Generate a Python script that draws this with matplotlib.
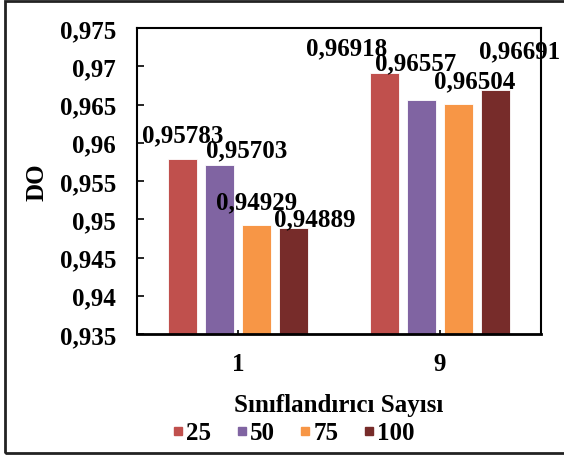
import matplotlib
matplotlib.use("Agg")
import matplotlib.pyplot as plt
import numpy as np
from matplotlib.lines import Line2D
from matplotlib.patches import Rectangle
from matplotlib.ticker import FuncFormatter

categories = ["1", "9"]
series_names = ["25", "50", "75", "100"]
values = {
    "25": [0.95783, 0.96918],
    "50": [0.95703, 0.96557],
    "75": [0.94929, 0.96504],
    "100": [0.94889, 0.96691],
}
colors = ["#C0504D", "#8064A2", "#F79646", "#772C2A"]
y_ticks = [0.935, 0.94, 0.945, 0.95, 0.955, 0.96, 0.965, 0.97, 0.975]

# label offsets (pixels) from each bar's top centre, per series and category
label_offsets = {
    "25": [(0, 18), (-38, 18)],
    "50": [(27, 9), (-6, 31)],
    "75": [(0, 16), (16, 17)],
    "100": [(21, 2), (24, 33)],
}

plt.rcParams["font.family"] = ["Liberation Serif", "DejaVu Serif"]
plt.rcParams["font.weight"] = "bold"
FS = 18

fig = plt.figure(figsize=(5.64, 4.56), dpi=100)
ax = fig.add_axes([137 / 564, 1 - 335 / 456, (541 - 137) / 564, (335 - 29) / 456])

x = np.arange(len(categories))
step = 0.183
width = 0.1436
for i, (name, col) in enumerate(zip(series_names, colors)):
    pos = x + (i - 1.5) * step
    bars = ax.bar(pos, values[name], width, color=col, label=name,
                  edgecolor="white", linewidth=0.6, zorder=2)
    for j, b in enumerate(bars):
        dx, dy = label_offsets[name][j]
        ax.annotate(f"{values[name][j]:.5f}".replace(".", ","),
                    (b.get_x() + b.get_width() / 2, b.get_height()),
                    xytext=(dx, dy), textcoords="offset pixels",
                    ha="center", va="baseline", fontsize=FS,
                    fontweight="bold", zorder=3)

ax.set_ylim(0.935, 0.975)
ax.set_xlim(-0.5, 1.5)
ax.set_yticks(y_ticks)
ax.yaxis.set_major_formatter(FuncFormatter(lambda v, p: f"{v:g}".replace(".", ",")))
ax.set_xticks(x)
ax.set_xticklabels(categories)
ax.tick_params(axis="y", direction="in", length=5, width=1.2, labelsize=FS, pad=15)
ax.tick_params(axis="x", direction="in", length=3, width=1.2, labelsize=FS, pad=13)
for s in ax.spines.values():
    s.set_linewidth(1.5)
    s.set_color("black")
ax.spines["bottom"].set_linewidth(2)

ax.set_ylabel("DO", fontsize=FS, fontweight="bold", labelpad=8)
ax.set_xlabel("Sınıflandırıcı Sayısı", fontsize=FS, fontweight="bold", labelpad=13)

handles = [Line2D([], [], marker="s", linestyle="", markersize=5.5,
                  markerfacecolor=c, markeredgecolor=c) for c in colors]
leg = fig.legend(handles, series_names, loc="center",
                 bbox_to_anchor=(294 / 564, 1 - 434 / 456), ncol=4,
                 frameon=False, fontsize=FS, handlelength=0.35,
                 handletextpad=0.15, columnspacing=1.05, borderaxespad=0)
for t in leg.get_texts():
    t.set_fontweight("bold")

# outer chart frame
fig.patches.append(Rectangle((5 / 564, 2 / 456), 1.2, 1 - 4 / 456,
                             transform=fig.transFigure, fill=False,
                             edgecolor="#222222", linewidth=2, zorder=0))

fig.savefig("out.png", dpi=100)
